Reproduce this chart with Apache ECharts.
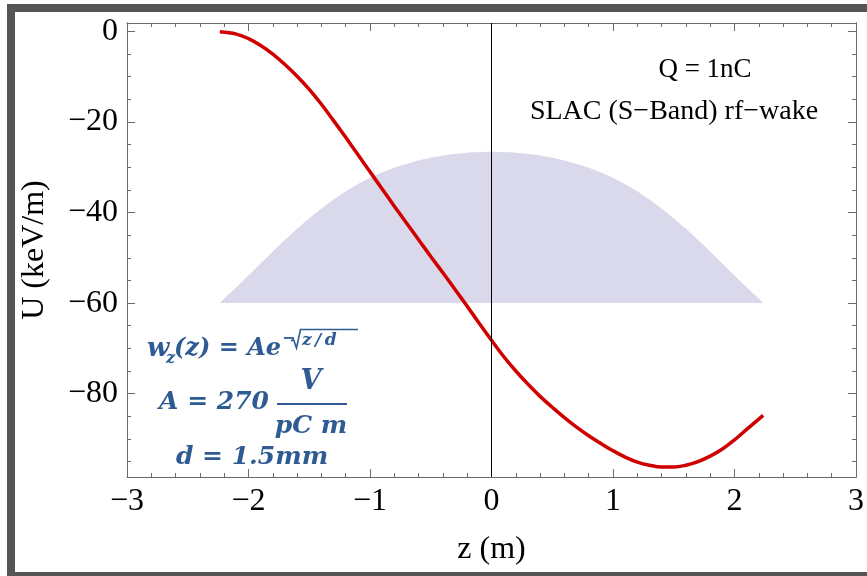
<!DOCTYPE html>
<html>
<head>
<meta charset="utf-8">
<script src="https://cdn.jsdelivr.net/npm/echarts@6/dist/echarts.min.js"></script>
<style>
  html, body { margin: 0; padding: 0; background: #fff; }
  #chart { width: 867px; height: 576px; }
</style>
</head>
<body>
<div id="chart"></div>
<script>
// Longitudinal wake potential U(z) of a 1 nC bunch (keV/m)
const wakeZ = [-2.236, -2.1, -2.0, -1.9, -1.8, -1.7, -1.6, -1.5, -1.4, -1.3, -1.2, -1.1, -1.0,
  -0.9, -0.8, -0.7, -0.6, -0.5, -0.4, -0.3, -0.2, -0.1, 0, 0.1, 0.2, 0.3, 0.4, 0.5, 0.6, 0.7,
  0.8, 0.9, 1.0, 1.1, 1.2, 1.3, 1.4, 1.5, 1.6, 1.7, 1.8, 1.9, 2.0, 2.1, 2.236];
const wakeU = [-0.1, -0.6, -1.6, -3.1, -5.0, -7.3, -9.9, -12.8, -16.1, -19.7, -23.4, -27.2, -31.0,
  -34.8, -38.6, -42.3, -46.0, -49.7, -53.3, -57.0, -60.7, -64.5, -68.2, -71.8, -75.0, -77.9, -80.6,
  -83.0, -85.3, -87.4, -89.3, -91.0, -92.6, -94.0, -95.1, -95.8, -96.2, -96.2, -95.8, -95.0, -93.8,
  -92.2, -90.2, -87.9, -84.8];

// Bunch profile outline, drawn on a baseline of -60
const bunchZ = [-2.236, -2.2, -2.1, -2.0, -1.8, -1.6, -1.4, -1.2, -1.0, -0.8, -0.6, -0.4, -0.2, 0,
  0.2, 0.4, 0.6, 0.8, 1.0, 1.2, 1.4, 1.6, 1.8, 2.0, 2.1, 2.2, 2.236];
const bunchU = [-60.0, -59.0, -56.5, -53.9, -48.6, -43.6, -39.1, -35.3, -32.3, -30.1, -28.5, -27.4, -26.8, -26.6,
  -26.8, -27.4, -28.5, -30.1, -32.3, -35.3, -39.1, -43.6, -48.6, -53.9, -56.5, -59.0, -60.0];
const bunchBase = -60;

// Axis ticks
const yMajorTicks = [0, -20, -40, -60, -80];
const yMinorTicks = [-5, -10, -15, -25, -30, -35, -45, -50, -55, -65, -70, -75, -85, -90, -95];
const xRange = [-3, 3];
const yRange = [-98.4, 1.85];

const zip = (a, b) => a.map((v, i) => [v, b[i]]);
const minus = v => String(v).replace('-', '\u2212');

const serif = '"Liberation Serif", "Times New Roman", serif';
const axisGray = '#6a6a6a';
const ink = '#2e5b93';
const mathFont = '"DejaVu Serif", serif';

const chart = echarts.init(document.getElementById('chart'), null, { renderer: 'canvas' });

function yAx(position, ticks, len, labels) {
  return {
    type: 'value', position: position, min: yRange[0], max: yRange[1],
    axisLine: { show: true, onZero: false, lineStyle: { color: axisGray, width: 1 } },
    axisTick: { show: true, inside: true, length: len, customValues: ticks, lineStyle: { color: axisGray } },
    axisLabel: labels ? {
      show: true, customValues: ticks, formatter: minus, margin: 9,
      color: '#000', fontFamily: serif, fontSize: 32
    } : { show: false },
    splitLine: { show: false }
  };
}

function xAx(position, labels) {
  return {
    type: 'value', position: position, min: xRange[0], max: xRange[1], interval: 1,
    axisLine: { show: true, onZero: false, lineStyle: { color: axisGray, width: 1 } },
    axisTick: { show: true, inside: true, length: 8, lineStyle: { color: axisGray } },
    minorTick: { show: true, splitNumber: 5, length: 4, lineStyle: { color: axisGray } },
    axisLabel: labels ? {
      show: true, formatter: minus, margin: 9,
      color: '#000', fontFamily: serif, fontSize: 32
    } : { show: false },
    splitLine: { show: false },
    name: labels ? 'z (m)' : '', nameLocation: 'middle', nameGap: 57,
    nameTextStyle: { color: '#000', fontFamily: serif, fontSize: 32 }
  };
}

const yLeft = yAx('left', yMajorTicks, 8, true);
yLeft.name = 'U (keV/m)';
yLeft.nameLocation = 'middle';
yLeft.nameGap = 76;
yLeft.nameTextStyle = { color: '#000', fontFamily: serif, fontSize: 32 };

const mathText = (text, x, y, size, align) => ({
  type: 'text', x: x, y: y, z: 20,
  style: {
    text: text, fill: ink, fontFamily: mathFont, fontSize: size, fontWeight: 'bold',
    fontStyle: 'italic', align: align || 'left', verticalAlign: 'middle'
  }
});

const option = {
  animation: false,
  backgroundColor: '#fff',
  grid: { left: 127, top: 23, right: 5, bottom: 99 },
  xAxis: [xAx('bottom', true), xAx('top', false)],
  yAxis: [
    yLeft,
    yAx('left', yMinorTicks, 4, false),
    yAx('right', yMajorTicks, 8, false),
    yAx('right', yMinorTicks, 4, false)
  ],
  series: [
    {
      name: 'bunch', type: 'line', xAxisIndex: 0, yAxisIndex: 0,
      data: zip(bunchZ, bunchU), smooth: 0.2, showSymbol: false, silent: true,
      lineStyle: { width: 0 },
      areaStyle: { color: '#d9d9eb', opacity: 1, origin: bunchBase },
      z: 1
    },
    {
      name: 'wake', type: 'line', xAxisIndex: 0, yAxisIndex: 0,
      data: zip(wakeZ, wakeU), smooth: 0.4, showSymbol: false, silent: true,
      lineStyle: { color: '#d00000', width: 3.5 },
      markLine: {
        silent: true, symbol: 'none', label: { show: false },
        lineStyle: { color: '#000', width: 1, type: 'solid' },
        data: [{ xAxis: 0 }]
      },
      z: 3
    }
  ],
  graphic: [
    // outer frame
    { type: 'rect', shape: { x: 7, y: 4, width: 860, height: 8 }, style: { fill: '#555' }, z: 30 },
    { type: 'rect', shape: { x: 7, y: 4, width: 8, height: 572 }, style: { fill: '#555' }, z: 30 },
    { type: 'rect', shape: { x: 7, y: 572, width: 860, height: 4 }, style: { fill: '#555' }, z: 30 },
    // annotations
    { type: 'text', x: 705, y: 70, z: 20, style: { text: 'Q = 1nC', fill: '#000', fontFamily: serif, fontSize: 27, align: 'center', verticalAlign: 'middle' } },
    { type: 'text', x: 674, y: 112, z: 20, style: { text: 'SLAC (S\u2212Band) rf\u2212wake', fill: '#000', fontFamily: serif, fontSize: 28, align: 'center', verticalAlign: 'middle' } },
    // wake function formula
    mathText('w', 147, 349, 26),
    mathText('z', 166, 359, 16),
    mathText('(z) = Ae', 174, 349, 24),
    mathText('\u2212', 282, 339, 16),
    { type: 'polyline', z: 20, shape: { points: [[291, 341], [293.5, 339.5], [296.5, 348], [300.5, 329.5], [358, 329.5]] },
      style: { stroke: ink, lineWidth: 1.6, fill: null } },
    mathText('z\u2009/\u2009d', 302, 341, 17),
    mathText('A = 270', 214, 402, 25, 'center'),
    { type: 'line', z: 20, shape: { x1: 277, y1: 404, x2: 347, y2: 404 }, style: { stroke: ink, lineWidth: 2 } },
    mathText('V', 311, 382, 27, 'center'),
    mathText('pC m', 311, 426, 25, 'center'),
    mathText('d = 1.5mm', 252, 457, 25, 'center')
  ]
};

chart.setOption(option);
</script>
</body>
</html>
